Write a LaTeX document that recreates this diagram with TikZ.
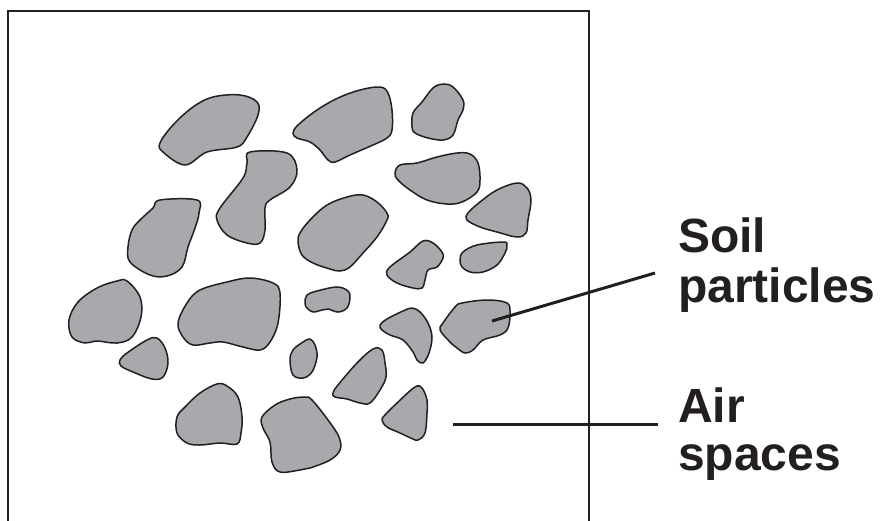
\documentclass[tikz,border=0pt]{standalone}
\usepackage{fontspec}
\setmainfont{Liberation Sans}
\begin{document}
\begin{tikzpicture}[x=1pt,y=-1pt,
  grain/.style={draw=ink,fill=grainfill,line width=1.5pt,line join=round},
  pointer/.style={draw=ink,line width=3pt},
  label/.style={anchor=base west,inner sep=0pt,font=\fontsize{48}{50}\selectfont\bfseries,text=ink}]
\definecolor{ink}{HTML}{231F20}
\definecolor{grainfill}{HTML}{A7A9AC}
\useasboundingbox (0,0) rectangle (880,520);
\clip (0,0) rectangle (880,520);
% sample frame (open below the cut)
\draw[ink,line width=2pt] (8,530) -- (8,11) -- (588.5,11) -- (588.5,530);

% soil grains
\draw[grain] plot[smooth cycle,tension=0.6] coordinates {(160,143) (163,152) (185,165) (207,152) (237,147) (247,137) (258,115) (257,102) (240,95) (213,97) (193,107) (173,125)};
\draw[grain] plot[smooth cycle,tension=0.6] coordinates {(250,152) (287,153) (297,170) (290,187) (270,200) (265,208) (265,230) (260,243) (247,243) (227,235) (217,220) (220,208) (243,178) (247,163)};
\draw[grain] plot[smooth cycle,tension=0.6] coordinates {(160,200) (197,200) (199,213) (195,228) (188,247) (182,267) (167,276) (150,275) (130,262) (128,247) (132,230) (140,220) (153,208)};
\draw[grain] plot[smooth cycle,tension=0.6] coordinates {(127,281) (140,297) (141,317) (132,337) (117,343) (97,341) (85,343) (72,337) (69,320) (78,302) (97,288) (117,281)};
\draw[grain] plot[smooth cycle,tension=0.6] coordinates {(178,323) (187,303) (200,290) (227,282) (250,278) (273,283) (280,293) (278,323) (270,342) (260,350) (243,347) (223,342) (210,343) (193,345) (183,337)};
\draw[grain] plot[smooth cycle,tension=0.6] coordinates {(120,360) (127,353) (147,340) (157,338) (165,348) (168,363) (163,377) (152,379) (133,372) (121,366)};
\draw[grain] plot[smooth cycle,tension=0.6] coordinates {(177,417) (177,433) (187,443) (200,445) (220,443) (237,444) (241,433) (242,417) (238,397) (227,386) (217,384) (200,393) (185,407)};
\draw[grain] plot[smooth cycle,tension=0.6] coordinates {(262,417) (263,428) (270,442) (272,462) (280,472) (300,470) (310,468) (330,460) (340,450) (339,437) (328,420) (312,400) (305,397) (290,399) (275,405)};
\draw[grain] plot[smooth cycle,tension=0.6] coordinates {(305,303) (307,295) (317,291) (337,287) (348,291) (350,298) (347,308) (338,312) (328,309) (322,310) (313,312) (307,308)};
\draw[grain] plot[smooth cycle,tension=0.6] coordinates {(290,360) (293,350) (303,342) (310,339) (315,345) (317,357) (312,372) (303,378) (293,375)};
\draw[grain] plot[smooth cycle,tension=0.6] coordinates {(333,393) (338,385) (357,363) (373,349) (382,350) (385,363) (386,377) (380,390) (370,403) (360,403) (347,399) (335,397)};
\draw[grain] plot[smooth cycle,tension=0.6] coordinates {(382,420) (385,415) (397,403) (415,387) (422,388) (427,400) (427,413) (425,433) (418,440) (413,439) (400,433) (387,427)};
\draw[grain] plot[smooth cycle,tension=0.6] coordinates {(380,325) (387,319) (403,311) (412,308) (420,312) (428,323) (432,337) (429,353) (423,363) (417,360) (413,352) (403,340) (390,335) (382,330)};
\draw[grain] plot[smooth cycle,tension=0.6] coordinates {(440,330) (443,323) (455,307) (462,303) (487,300) (507,303) (510,313) (508,328) (500,335) (483,340) (473,350) (465,353) (457,348) (450,342)};
\draw[grain] plot[smooth cycle,tension=0.6] coordinates {(387,275) (390,267) (410,252) (423,241) (433,243) (442,252) (443,258) (437,267) (428,270) (425,280) (422,288) (413,288) (397,283)};
\draw[grain] plot[smooth cycle,tension=0.6] coordinates {(460,260) (463,252) (477,245) (503,242) (507,245) (505,253) (497,265) (483,272) (470,272) (462,267)};
\draw[grain] plot[smooth cycle,tension=0.6] coordinates {(467,220) (468,213) (480,202) (497,190) (517,183) (527,188) (531,200) (528,220) (526,233) (517,237) (497,232) (480,227)};
\draw[grain] plot[smooth cycle,tension=0.6] coordinates {(395,173) (400,165) (417,163) (437,157) (457,153) (470,154) (478,163) (480,180) (477,192) (462,202) (447,204) (427,200) (410,190) (398,180)};
\draw[grain] plot[smooth cycle,tension=0.6] coordinates {(412,127) (413,113) (422,102) (433,88) (443,84) (453,87) (463,100) (463,110) (458,120) (453,135) (443,140) (428,138) (415,133)};
\draw[grain] plot[smooth cycle,tension=0.6] coordinates {(293,133) (298,125) (317,110) (338,98) (360,90) (380,87) (388,93) (392,110) (392,130) (387,138) (373,145) (350,155) (335,162) (328,160) (320,150) (310,142) (297,138)};
\draw[grain] plot[smooth cycle,tension=0.6] coordinates {(298,242) (300,233) (310,220) (327,205) (347,197) (363,195) (377,202) (387,213) (387,220) (377,237) (363,253) (350,267) (340,271) (330,269) (313,263) (302,255)};

% labels
\node[label] (soil1) at (678,252) {Soil};
\node[label] (soil2) at (678,302) {particles};
\node[label] (air1) at (678,422) {Air};
\node[label] (air2) at (678,470) {spaces};

% pointer lines
\coordinate (soilend) at (655,273);
\coordinate (soiltip) at (492,321);
\coordinate (airend) at (658,424);
\coordinate (airtip) at (453,424);
\draw[pointer] (soilend) -- (soiltip);
\draw[pointer] (airend) -- (airtip);
\end{tikzpicture}
\end{document}
